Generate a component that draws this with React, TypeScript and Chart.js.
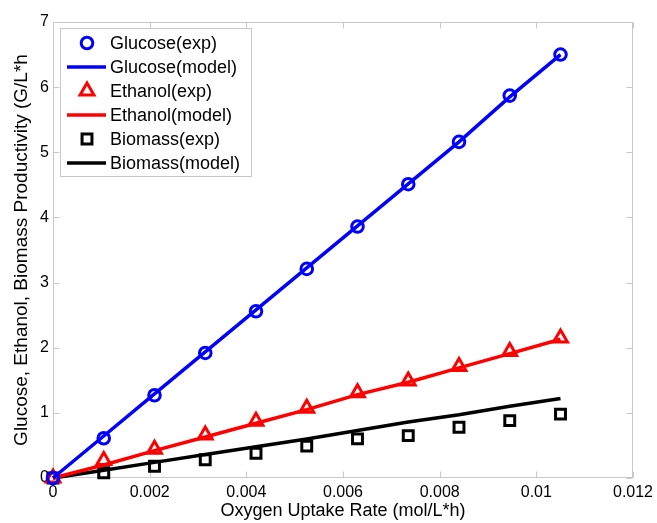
import React, { useEffect, useRef } from 'react';
import { Chart, registerables } from 'chart.js';

Chart.register(...registerables);

const oxygenUptake = [0, 0.00105, 0.0021, 0.00315, 0.0042, 0.00525, 0.0063, 0.00735, 0.0084, 0.00945, 0.0105];
const glucoseExp = [0, 0.61, 1.27, 1.92, 2.56, 3.21, 3.86, 4.51, 5.16, 5.87, 6.5];
const glucoseModel = [0, 0.645, 1.29, 1.935, 2.58, 3.225, 3.87, 4.515, 5.16, 5.85, 6.5];
const ethanolExp = [0, 0.27, 0.44, 0.66, 0.87, 1.07, 1.31, 1.49, 1.71, 1.94, 2.15];
const ethanolModel = [0, 0.2, 0.42, 0.63, 0.84, 1.05, 1.28, 1.47, 1.69, 1.91, 2.13];
const biomassExp = [0, 0.08, 0.18, 0.28, 0.38, 0.49, 0.6, 0.65, 0.78, 0.88, 0.98];
const biomassModel = [0, 0.12, 0.24, 0.36, 0.48, 0.6, 0.73, 0.86, 0.97, 1.1, 1.22];

const seriesLabels = ['Glucose(exp)', 'Glucose(model)', 'Ethanol(exp)', 'Ethanol(model)', 'Biomass(exp)', 'Biomass(model)'];
const xTickLabels = ['0', '0.002', '0.004', '0.006', '0.008', '0.01', '0.012'];
const yTickLabels = ['0', '1', '2', '3', '4', '5', '6', '7'];

const FONT = '"Liberation Sans", Arial, Helvetica, sans-serif';
const BLUE = '#0000ff';
const RED = '#ff0000';
const BLACK = '#000000';
const FRAME = '#c8c8c8';

const toPoints = (ys: number[]) => oxygenUptake.map((x, i) => ({ x, y: ys[i] }));

function drawMarker(ctx: CanvasRenderingContext2D, style: string, x: number, y: number, r: number) {
  ctx.beginPath();
  if (style === 'circle') {
    ctx.arc(x, y, r, 0, Math.PI * 2);
  } else if (style === 'triangle') {
    let rad = 0;
    ctx.moveTo(x + Math.sin(rad) * r, y - Math.cos(rad) * r);
    rad += (2 * Math.PI) / 3;
    ctx.lineTo(x + Math.sin(rad) * r, y - Math.cos(rad) * r);
    rad += (2 * Math.PI) / 3;
    ctx.lineTo(x + Math.sin(rad) * r, y - Math.cos(rad) * r);
    ctx.closePath();
  } else if (style === 'rect') {
    const s = Math.SQRT1_2 * r;
    ctx.rect(x - s, y - s, 2 * s, 2 * s);
  }
  ctx.stroke();
}

const framePlugin = {
  id: 'frame',
  beforeDatasetsDraw(chart: any) {
    const { ctx, chartArea: a, scales } = chart;
    const L = Math.round(a.left) + 0.5;
    const R = Math.round(a.right) - 0.5;
    const T = Math.round(a.top) + 0.5;
    const B = Math.round(a.bottom) - 0.5;
    ctx.save();
    ctx.strokeStyle = FRAME;
    ctx.lineWidth = 1;
    ctx.strokeRect(L, T, R - L, B - T);
    const tl = 6;
    ctx.beginPath();
    scales.x.ticks.forEach((t: any) => {
      const px = Math.round(scales.x.getPixelForValue(t.value)) + 0.5;
      ctx.moveTo(px, B);
      ctx.lineTo(px, B - tl);
      ctx.moveTo(px, T);
      ctx.lineTo(px, T + tl);
    });
    scales.y.ticks.forEach((t: any) => {
      const py = Math.round(scales.y.getPixelForValue(t.value)) + 0.5;
      ctx.moveTo(L, py);
      ctx.lineTo(L + tl, py);
      ctx.moveTo(R, py);
      ctx.lineTo(R - tl, py);
    });
    ctx.stroke();
    ctx.restore();
  },
};

const legendPlugin = {
  id: 'insideLegend',
  afterDatasetsDraw(chart: any) {
    const { ctx, chartArea: a } = chart;
    const bx = Math.round(a.left) + 7.5;
    const by = Math.round(a.top) + 6.5;
    const bw = 191;
    const bh = 148;
    ctx.save();
    ctx.fillStyle = '#ffffff';
    ctx.fillRect(bx, by, bw, bh);
    ctx.strokeStyle = FRAME;
    ctx.lineWidth = 1;
    ctx.strokeRect(bx, by, bw, bh);
    ctx.font = `18px ${FONT}`;
    ctx.textBaseline = 'middle';
    ctx.textAlign = 'left';
    chart.data.datasets.forEach((ds: any, i: number) => {
      const cy = a.top + 21 + 24 * i;
      const color = ds.borderColor;
      if (ds.showLine) {
        ctx.strokeStyle = color;
        ctx.lineWidth = ds.borderWidth;
        ctx.beginPath();
        ctx.moveTo(a.left + 14, cy);
        ctx.lineTo(a.left + 53, cy);
        ctx.stroke();
      } else {
        ctx.strokeStyle = color;
        ctx.lineWidth = ds.pointBorderWidth;
        drawMarker(ctx, ds.pointStyle, a.left + 34, cy, ds.pointRadius);
      }
      ctx.fillStyle = '#000000';
      ctx.fillText(ds.label, a.left + 57, cy + 1);
    });
    ctx.restore();
  },
};

export default function App() {
  const canvasRef = useRef<HTMLCanvasElement | null>(null);

  useEffect(() => {
    document.body.style.margin = '0';
    const canvas = canvasRef.current;
    if (!canvas) return;

    const expSet = (label: string, ys: number[], color: string, style: string, r: number) => ({
      label,
      data: toPoints(ys),
      showLine: false,
      borderColor: color,
      backgroundColor: 'rgba(0,0,0,0)',
      pointStyle: style,
      pointRadius: r,
      pointHoverRadius: r,
      pointBorderWidth: 3,
      pointBorderColor: color,
      pointBackgroundColor: 'rgba(0,0,0,0)',
      clip: false,
    });
    const modelSet = (label: string, ys: number[], color: string) => ({
      label,
      data: toPoints(ys),
      showLine: true,
      borderColor: color,
      backgroundColor: color,
      borderWidth: 3.5,
      pointRadius: 0,
      pointHoverRadius: 0,
      tension: 0,
      clip: false,
    });

    const chart = new Chart(canvas, {
      type: 'scatter',
      data: {
        datasets: [
          expSet(seriesLabels[0], glucoseExp, BLUE, 'circle', 5.8),
          modelSet(seriesLabels[1], glucoseModel, BLUE),
          expSet(seriesLabels[2], ethanolExp, RED, 'triangle', 8),
          modelSet(seriesLabels[3], ethanolModel, RED),
          expSet(seriesLabels[4], biomassExp, BLACK, 'rect', 7),
          modelSet(seriesLabels[5], biomassModel, BLACK),
        ] as any,
      },
      options: {
        animation: false,
        responsive: true,
        maintainAspectRatio: false,
        layout: { padding: { top: 22, right: 24, left: 0, bottom: 0 } },
        plugins: {
          legend: { display: false },
          tooltip: { enabled: false },
        },
        scales: {
          x: {
            type: 'linear',
            min: 0,
            max: 0.012,
            grid: { display: false, drawTicks: false },
            border: { display: false },
            ticks: {
              stepSize: 0.002,
              color: '#000',
              padding: 5,
              maxRotation: 0,
              font: { family: FONT, size: 16 },
              callback: (_v: any, i: number) => xTickLabels[i],
            },
            title: {
              display: true,
              text: 'Oxygen Uptake Rate (mol/L*h)',
              color: '#000',
              font: { family: FONT, size: 18 },
              padding: { top: 0, bottom: 1 },
            },
            afterFit: (s: any) => {
              s.height = 45;
              s.paddingLeft = 0;
              s.paddingRight = 0;
            },
          },
          y: {
            type: 'linear',
            min: 0,
            max: 7,
            grid: { display: false, drawTicks: false },
            border: { display: false },
            ticks: {
              stepSize: 1,
              color: '#000',
              padding: 4,
              font: { family: FONT, size: 16 },
              callback: (_v: any, i: number) => yTickLabels[i],
            },
            title: {
              display: true,
              text: 'Glucose, Ethanol, Biomass Productivity (G/L*h',
              color: '#000',
              font: { family: FONT, size: 19 },
              padding: { top: 10, bottom: 0 },
            },
            afterFit: (s: any) => {
              s.width = 53;
              s.paddingTop = 0;
              s.paddingBottom = 0;
            },
          },
        },
      } as any,
      plugins: [framePlugin, legendPlugin],
    });

    return () => {
      chart.destroy();
    };
  }, []);

  return (
    <div style={{ width: 657, height: 523, position: 'relative' }}>
      <canvas ref={canvasRef} />
    </div>
  );
}
